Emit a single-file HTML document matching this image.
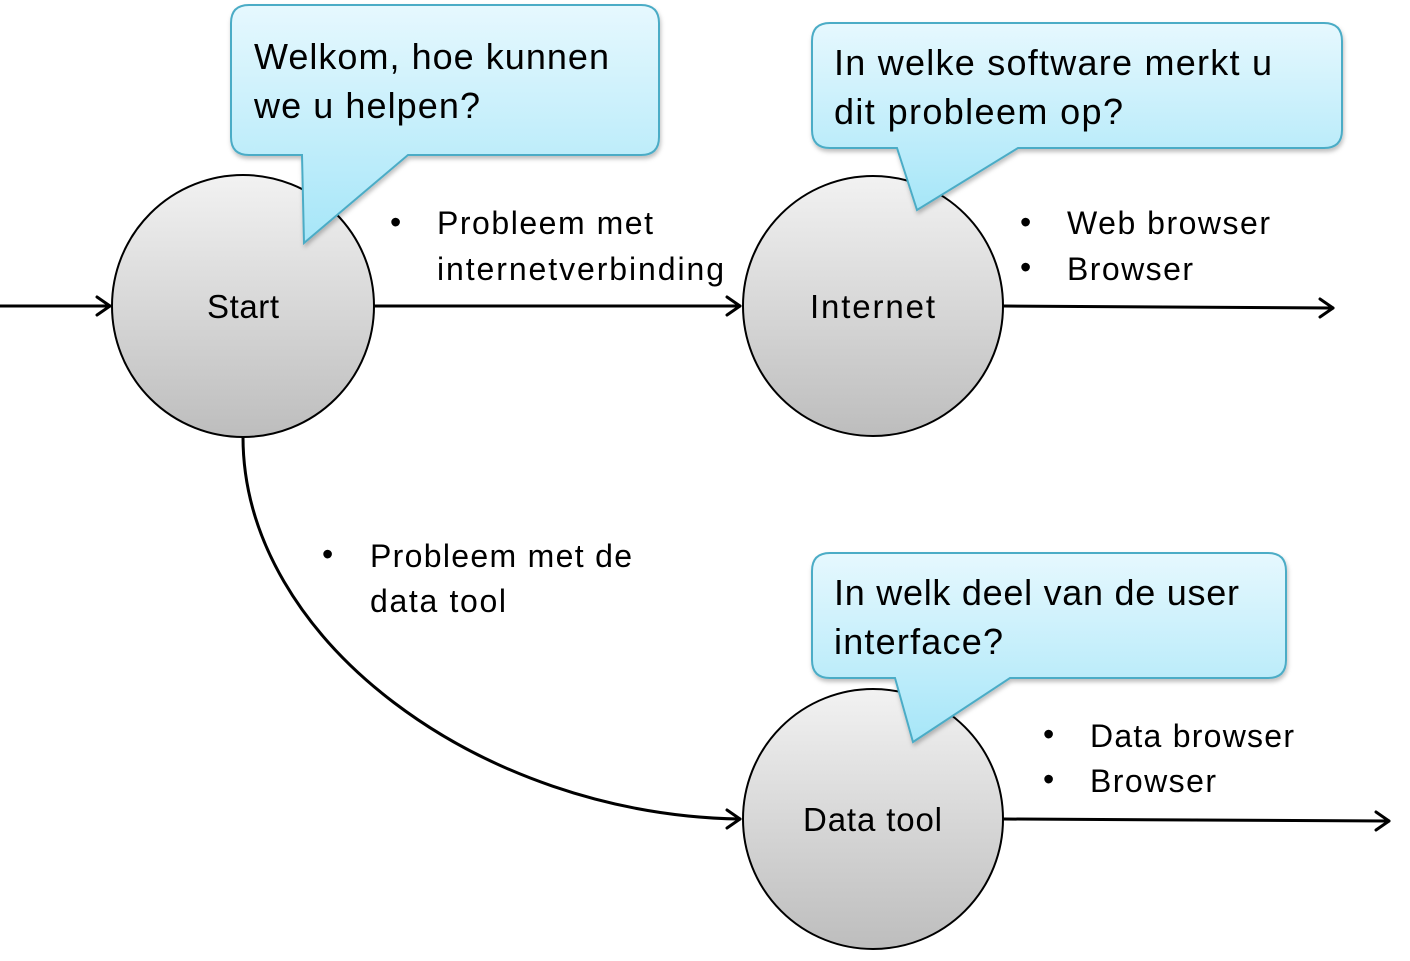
<!DOCTYPE html>
<html><head><meta charset="utf-8"><style>
html,body{margin:0;padding:0;background:#fff;}
svg{display:block;}
text{font-family:"Liberation Sans",sans-serif;fill:#000;}
</style></head><body>
<svg width="1410" height="961" viewBox="0 0 1410 961" xmlns="http://www.w3.org/2000/svg">
<defs>
<linearGradient id="cg" x1="0" y1="0" x2="0" y2="1">
<stop offset="0" stop-color="#f2f2f2"/><stop offset="1" stop-color="#bdbdbd"/>
</linearGradient>
<linearGradient id="bg" x1="0" y1="0" x2="0" y2="1">
<stop offset="0" stop-color="#e6f8fe"/><stop offset="1" stop-color="#a6e6f8"/>
</linearGradient>
<filter id="sh" x="-10%" y="-10%" width="120%" height="130%">
<feDropShadow dx="1" dy="3" stdDeviation="2" flood-color="#000" flood-opacity="0.25"/>
</filter>
</defs>
<g stroke="#000" stroke-width="3" fill="none" stroke-linecap="round" stroke-linejoin="round">
<line x1="0" y1="306" x2="110" y2="306"/><polyline points="97,297 110,306 97,315"/>
<line x1="375" y1="306" x2="740" y2="306"/><polyline points="727,297 740,306 727,315"/>
<path d="M1004,306 L1333,308"/><polyline points="1320,299 1333,308 1320,317"/>
<path d="M1004,819 L1389,821"/><polyline points="1376,812 1389,821 1376,830"/>
<path d="M243,437 C243,640 480,815 740,819"/><polyline points="727,810 740,819 727,828"/>
</g>
<g stroke="#000" stroke-width="2" fill="url(#cg)">
<circle cx="243" cy="306" r="131"/>
<circle cx="873" cy="306" r="130"/>
<circle cx="873" cy="819" r="130"/>
</g>
<g font-size="33">
<text x="207" y="318" textLength="72">Start</text>
<text x="810" y="318" textLength="125">Internet</text>
<text x="803" y="831" textLength="139">Data tool</text>
</g>
<g stroke="#4bacc6" stroke-width="2" fill="url(#bg)" filter="url(#sh)">
<path d="M249,5 H641 Q659,5 659,23 V137 Q659,155 641,155 H408 L304,243 L302,155 H249 Q231,155 231,137 V23 Q231,5 249,5 Z"/>
<path d="M830,23 H1324 Q1342,23 1342,41 V130 Q1342,148 1324,148 H1018 L917,210 L897,148 H830 Q812,148 812,130 V41 Q812,23 830,23 Z"/>
<path d="M830,553 H1268 Q1286,553 1286,571 V660 Q1286,678 1268,678 H1010 L913,742 L895,678 H830 Q812,678 812,660 V571 Q812,553 830,553 Z"/>
</g>
<g font-size="36">
<text x="254" y="69" textLength="355">Welkom, hoe kunnen</text>
<text x="254" y="118" textLength="226">we u helpen?</text>
<text x="834" y="75" textLength="438">In welke software merkt u</text>
<text x="834" y="124" textLength="289">dit probleem op?</text>
<text x="834" y="605" textLength="405">In welk deel van de user</text>
<text x="834" y="654" textLength="169">interface?</text>
</g>
<g font-size="32">
<text x="390" y="233">•</text>
<text x="437" y="234" textLength="216">Probleem met</text>
<text x="437" y="280" textLength="287">internetverbinding</text>
<text x="1020" y="233">•</text><text x="1067" y="234" textLength="203">Web browser</text>
<text x="1020" y="278">•</text><text x="1067" y="280" textLength="126">Browser</text>
<text x="322" y="565">•</text>
<text x="370" y="567" textLength="262">Probleem met de</text>
<text x="370" y="612" textLength="136">data tool</text>
<text x="1043" y="745">•</text><text x="1090" y="747" textLength="204">Data browser</text>
<text x="1043" y="790">•</text><text x="1090" y="792" textLength="126">Browser</text>
</g>
</svg>
</body></html>
